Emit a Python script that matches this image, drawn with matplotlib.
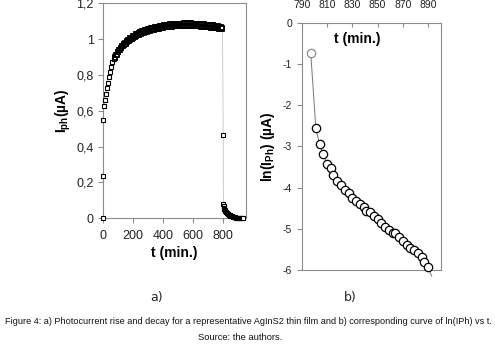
import matplotlib
matplotlib.use("Agg")
import matplotlib.pyplot as plt
import matplotlib.font_manager as fm

# ---- data ----
# a) photocurrent rise (light on): first the sparse start, then the dense band (every 5 min)
t_start = [0, 0, 0, 3, 10, 16, 22, 28, 35, 42, 50, 60, 70]
i_start = [0.0, 0.238, 0.549, 0.627, 0.66, 0.694, 0.725, 0.757, 0.79, 0.818, 0.846, 0.874, 0.888]
t_band = list(range(75, 800, 5))
i_band = [0.899, 0.897, 0.914, 0.912, 0.929, 0.926, 0.941, 0.937, 0.953, 0.949,
          0.962, 0.959, 0.972, 0.967, 0.981, 0.975, 0.989, 0.983, 0.997, 0.991,
          1.004, 0.995, 1.008, 1.002, 1.015, 1.006, 1.020, 1.012, 1.026, 1.017,
          1.031, 1.021, 1.034, 1.025, 1.039, 1.029, 1.043, 1.032, 1.046, 1.035,
          1.049, 1.038, 1.052, 1.041, 1.055, 1.044, 1.058, 1.046, 1.060, 1.048,
          1.062, 1.051, 1.064, 1.053, 1.067, 1.055, 1.069, 1.057, 1.070, 1.059,
          1.072, 1.060, 1.073, 1.062, 1.075, 1.063, 1.077, 1.065, 1.078, 1.066,
          1.079, 1.067, 1.081, 1.068, 1.082, 1.069, 1.083, 1.070, 1.084, 1.071,
          1.085, 1.071, 1.085, 1.072, 1.086, 1.072, 1.086, 1.073, 1.087, 1.073,
          1.087, 1.074, 1.088, 1.074, 1.088, 1.074, 1.088, 1.075, 1.088, 1.074,
          1.088, 1.074, 1.088, 1.073, 1.087, 1.073, 1.087, 1.072, 1.086, 1.072,
          1.086, 1.071, 1.085, 1.071, 1.084, 1.070, 1.084, 1.069, 1.083, 1.069,
          1.082, 1.068, 1.081, 1.067, 1.080, 1.066, 1.079, 1.065, 1.078, 1.064,
          1.077, 1.063, 1.076, 1.062, 1.075, 1.061, 1.073, 1.060, 1.072, 1.059,
          1.070, 1.058, 1.068, 1.057, 1.060]
# light off
t_decay = [800, 801, 803, 805, 808, 811, 815, 819, 823, 827, 832, 837, 842, 847,
           852, 857, 862, 867, 872, 878, 884, 890, 897, 904, 911, 918, 925, 933]
i_decay = [0.465, 0.078, 0.068, 0.06, 0.052, 0.046, 0.04, 0.035, 0.031, 0.027, 0.023, 0.02, 0.017, 0.014,
           0.012, 0.01, 0.0085, 0.007, 0.006, 0.005, 0.004, 0.0035, 0.003, 0.0025, 0.002, 0.0015, 0.001, 0.0005]

# b) ln(Iph) during the decay
t_ln = [797, 801, 804, 807, 810, 813, 815, 818, 821, 824, 827, 830, 833, 836, 839, 841, 844,
        847, 850, 853, 856, 859, 862, 864, 867, 870, 873, 876, 879, 882, 885, 887, 890]
ln_i = [-0.74, -2.55, -2.95, -3.19, -3.43, -3.53, -3.69, -3.83, -3.94, -4.06, -4.14, -4.24, -4.32,
        -4.40, -4.48, -4.56, -4.60, -4.69, -4.77, -4.87, -4.95, -5.03, -5.09, -5.11, -5.19, -5.29,
        -5.39, -5.47, -5.51, -5.58, -5.68, -5.80, -5.93]
t_ln_tail = 893     # line keeps going past the last point
ln_tail = -6.15

caption = ("Figure 4: a) Photocurrent rise and decay for a representative AgInS2 thin film "
           "and b) corresponding curve of ln(IPh) vs t.")
source = "Source: the authors."

# ---- fonts ----
names = {f.name for f in fm.fontManager.ttflist}
narrow = "Liberation Sans Narrow" if "Liberation Sans Narrow" in names else "Liberation Sans"
plt.rcParams["font.family"] = ["Liberation Sans", "DejaVu Sans"]
plt.rcParams["mathtext.fontset"] = "custom"
plt.rcParams["mathtext.rm"] = "Liberation Sans:bold"
plt.rcParams["mathtext.default"] = "rm"

spine_col = "#8c8c8c"

fig = plt.figure(figsize=(4.95, 3.62), dpi=100)

# ---- panel a ----
ax1 = fig.add_axes([0.2087, 0.397, 0.2877, 0.594])
t_all = t_start + t_band + t_decay
i_all = i_start + i_band + i_decay
ax1.plot(t_all, i_all, color="#c4c4c4", lw=0.6, zorder=2)
sq = dict(ls="none", marker="s", ms=3.2, mfc="white", mec="black", clip_on=False, zorder=3)
ax1.plot(t_start, i_start, mew=0.8, **sq)
ax1.plot(t_band, i_band, mew=1.3, **sq)      # dense band reads as solid black
ax1.plot(t_decay, i_decay, mew=0.8, **sq)
ax1.set_xlim(0, 950)
ax1.set_ylim(0, 1.2)
ax1.set_xticks([0, 200, 400, 600, 800])
ax1.set_yticks([0, 0.2, 0.4, 0.6, 0.8, 1.0, 1.2])
ax1.set_yticklabels(["0", "0,2", "0,4", "0,6", "0,8", "1", "1,2"])
ax1.tick_params(axis="both", labelsize=9, colors=spine_col, labelcolor="#222222",
                length=3.5, width=0.8, direction="out")
ax1.tick_params(axis="x", pad=5)
for s in ax1.spines.values():
    s.set_color(spine_col)
    s.set_linewidth(0.8)
ax1.set_xlabel("t (min.)", fontsize=10, fontweight="bold", labelpad=3)
ax1.set_ylabel("I$_{ph}$(µA)", fontsize=10, fontweight="bold", labelpad=2)

# ---- panel b ----
ax2 = fig.add_axes([0.610, 0.254, 0.280, 0.683])
ax2.plot(t_ln + [t_ln_tail], ln_i + [ln_tail], color="#777777", lw=0.7,
         clip_on=False, zorder=2)
ax2.plot(t_ln[1:], ln_i[1:], ls="none", marker="o", ms=6, mfc="white", mec="black",
         mew=0.9, clip_on=False, zorder=3)
ax2.plot(t_ln[:1], ln_i[:1], ls="none", marker="o", ms=6, mfc="white", mec="#8a8a8a",
         mew=0.9, clip_on=False, zorder=3)
ax2.set_xlim(790, 900)
ax2.set_ylim(-6, 0)
ax2.xaxis.tick_top()
ax2.set_xticks([790, 810, 830, 850, 870, 890])
ax2.set_yticks([-6, -5, -4, -3, -2, -1, 0])
ax2.set_yticklabels(["-6", "-5", "-4", "-3", "-2", "-1", "0"])
ax2.tick_params(axis="x", labelsize=7.5, colors=spine_col, labelcolor="#222222",
                length=3, width=0.8, direction="in", pad=9)
ax2.tick_params(axis="y", labelsize=7.5, colors=spine_col, labelcolor="#222222",
                length=3.5, width=0.8, direction="out")
for s in ax2.spines.values():
    s.set_color(spine_col)
    s.set_linewidth(0.8)
ax2.text(0.40, 0.935, "t (min.)", transform=ax2.transAxes, fontsize=10,
         fontweight="bold", ha="center", va="center")
ax2.set_ylabel("ln(I$_{Ph}$) (µA)", fontsize=10, fontweight="bold", labelpad=4)

# ---- captions ----
fig.text(157 / 495, 1 - 298 / 362, "a)", fontsize=9, ha="center", va="center",
         family="DejaVu Sans", color="#222222")
fig.text(350 / 495, 1 - 298 / 362, "b)", fontsize=9, ha="center", va="center",
         family="DejaVu Sans", color="#222222")
cap = fig.text(248 / 495, 1 - 321 / 362, caption, fontsize=7, ha="center", va="center",
               family=narrow, color="#111111")
src = fig.text(240 / 495, 1 - 338 / 362, source, fontsize=6, ha="center", va="center",
               family=narrow, color="#111111")

# squeeze caption lines to the width they have in the figure
fig.canvas.draw()
for txt, width in [(cap, 480), (src, 86)]:
    w = txt.get_window_extent().width
    txt.set_fontsize(txt.get_fontsize() * width / w)

fig.savefig("out.png", dpi=100)
